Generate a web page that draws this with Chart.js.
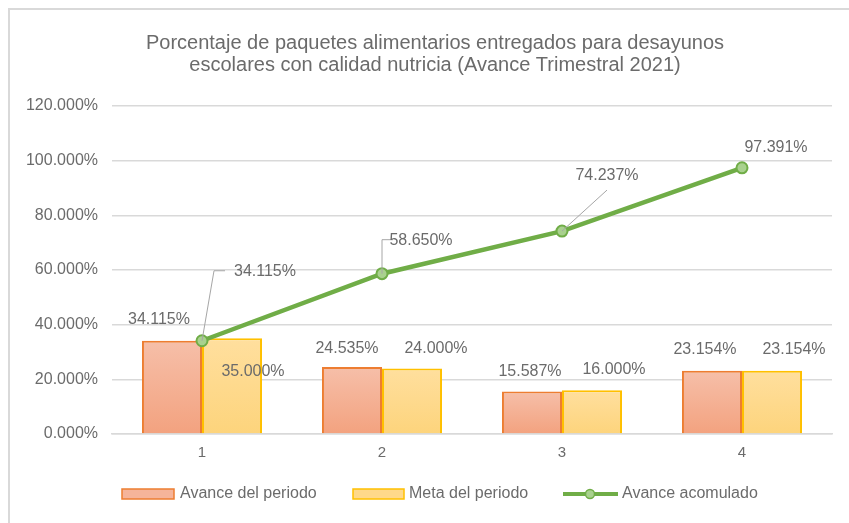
<!DOCTYPE html>
<html lang="en">
<head>
    <meta charset="UTF-8">
    <title>Avance Trimestral 2021</title>
    <style>
        body { margin: 0; background: #fff; }
        #chartContainer { width: 849px; height: 523px; }
    </style>
</head>
<body>

<div id="chartContainer">
    <canvas id="avanceChart"></canvas>
</div>

<script src="https://cdn.jsdelivr.net/npm/chart.js"></script>
<script>
    // Chart data
    const trimestres = ['1', '2', '3', '4'];
    const avancePeriodo = [34.115, 24.535, 15.587, 23.154];
    const metaPeriodo = [35.000, 24.000, 16.000, 23.154];
    const avanceAcumulado = [34.115, 58.650, 74.237, 97.391];
    const yTicks = [0, 20, 40, 60, 80, 100, 120];
    const tituloLineas = [
        'Porcentaje de paquetes alimentarios entregados para desayunos',
        'escolares con calidad nutricia (Avance Trimestral 2021)'
    ];
    const nombresSeries = ['Avance del periodo', 'Meta del periodo', 'Avance acomulado'];

    // label offsets (px) from each mark, copied from how Excel placed them
    const labelShift = [
        [[-13, -21], [-5, -18], [-2, -20], [-7, -21]],
        [[21, 33], [24, -20], [22, -21], [22, -21]],
        [[63, -69], [39, -33], [45, -55], [34, -20]]
    ];

    const fontFam = '"Liberation Sans", Arial, sans-serif';
    const grey = '#6b6b6b';

    function barGradient(ctx, top, bottom) {
        return function (context) {
            const chart = context.chart;
            if (!chart.chartArea || context.type !== 'data') return top;
            const y = chart.scales.y;
            const v = context.raw;
            const g = chart.ctx.createLinearGradient(0, y.getPixelForValue(v), 0, y.getPixelForValue(0));
            g.addColorStop(0, top);
            g.addColorStop(1, bottom);
            return g;
        };
    }

    const fmt = v => v.toFixed(3) + '%';

    const decor = {
        id: 'decor',
        beforeDraw(chart) {
            const c = chart.ctx;
            c.save();
            c.fillStyle = '#fff';
            c.fillRect(0, 0, chart.width, chart.height);
            // frame
            c.fillStyle = '#d9d9d9';
            c.fillRect(8, 8, chart.width - 8, 2);
            c.fillRect(8, 8, 2, chart.height - 8);
            // title
            c.fillStyle = grey;
            c.font = '20px ' + fontFam;
            c.textAlign = 'center';
            c.textBaseline = 'middle';
            c.fillText(tituloLineas[0], 435, 43);
            c.fillText(tituloLineas[1], 435, 65);
            c.restore();
        },
        afterDatasetsDraw(chart) {
            const c = chart.ctx;
            c.save();
            c.font = '16px ' + fontFam;
            c.fillStyle = grey;
            c.textAlign = 'center';
            c.textBaseline = 'middle';
            chart.data.datasets.forEach((ds, i) => {
                const meta = chart.getDatasetMeta(i);
                meta.data.forEach((el, j) => {
                    const px = el.x, py = el.y;
                    const lx = px + labelShift[i][j][0];
                    const ly = py + labelShift[i][j][1];
                    if (i === 2 && j < 3) {
                        // leader lines
                        c.strokeStyle = '#a6a6a6';
                        c.lineWidth = 1;
                        c.beginPath();
                        if (j === 0) {
                            c.moveTo(px, py); c.lineTo(px + 12, py - 70); c.lineTo(px + 23, py - 70);
                        } else if (j === 1) {
                            c.moveTo(px, py); c.lineTo(px, py - 34); c.lineTo(px + 11, py - 34);
                        } else {
                            c.moveTo(px, py); c.lineTo(px + 45, py - 41);
                        }
                        c.stroke();
                    }
                    c.fillText(fmt(ds.data[j]), lx, ly);
                });
            });
            c.restore();
        },
        afterDraw(chart) {
            // legend
            const c = chart.ctx;
            c.save();
            c.textBaseline = 'middle';
            const ly = 494;
            c.lineWidth = 1.5;
            c.fillStyle = '#f5b49a';
            c.fillRect(122, 489, 52, 10);
            c.strokeStyle = '#ed7d31';
            c.strokeRect(122, 489, 52, 10);
            c.fillStyle = '#ffd98a';
            c.fillRect(353, 489, 51, 10);
            c.strokeStyle = '#ffc000';
            c.strokeRect(353, 489, 51, 10);
            c.strokeStyle = '#70ad47'; c.lineWidth = 4;
            c.beginPath(); c.moveTo(563, ly); c.lineTo(618, ly); c.stroke();
            c.fillStyle = '#a9d18e'; c.lineWidth = 1.5;
            c.beginPath(); c.arc(590, ly, 4.5, 0, Math.PI * 2); c.fill(); c.stroke();
            c.fillStyle = grey;
            c.font = '16px ' + fontFam;
            c.fillText(nombresSeries[0], 180, ly);
            c.fillText(nombresSeries[1], 409, ly);
            c.fillText(nombresSeries[2], 622, ly);
            c.restore();
        }
    };

    const ctx = document.getElementById('avanceChart').getContext('2d');
    new Chart(ctx, {
        data: {
            labels: trimestres,
            datasets: [
                {
                    type: 'bar',
                    label: nombresSeries[0],
                    data: avancePeriodo,
                    backgroundColor: barGradient(ctx, '#f6bfa9', '#f3a27f'),
                    borderColor: '#ed7d31',
                    borderWidth: 2,
                    borderSkipped: 'bottom',
                    categoryPercentage: 0.667,
                    barPercentage: 1,
                    order: 2
                },
                {
                    type: 'bar',
                    label: nombresSeries[1],
                    data: metaPeriodo,
                    backgroundColor: barGradient(ctx, '#ffdf9e', '#fdd47c'),
                    borderColor: '#ffc000',
                    borderWidth: 2,
                    borderSkipped: 'bottom',
                    categoryPercentage: 0.667,
                    barPercentage: 1,
                    order: 2
                },
                {
                    type: 'line',
                    label: nombresSeries[2],
                    data: avanceAcumulado,
                    borderColor: '#70ad47',
                    borderWidth: 4.5,
                    pointRadius: 5.5,
                    pointBackgroundColor: '#a9d18e',
                    pointBorderColor: '#70ad47',
                    pointBorderWidth: 2,
                    tension: 0,
                    order: 1
                }
            ]
        },
        options: {
            responsive: true,
            maintainAspectRatio: false,
            animation: false,
            layout: { padding: { top: 106, right: 17, bottom: 49, left: 0 } },
            plugins: {
                legend: { display: false },
                title: { display: false },
                tooltip: { enabled: false }
            },
            scales: {
                x: {
                    offset: true,
                    grid: { display: false, drawTicks: false },
                    border: { color: '#d9d9d9', width: 1.5 },
                    ticks: { color: grey, font: { size: 15, family: fontFam }, padding: 10 },
                    afterFit(s) { s.height = 40; }
                },
                y: {
                    min: 0,
                    max: 120,
                    afterBuildTicks(s) { s.ticks = yTicks.map(v => ({ value: v })); },
                    grid: { color: '#d9d9d9', lineWidth: 1.5, drawTicks: false },
                    border: { display: false },
                    ticks: {
                        color: grey,
                        font: { size: 16, family: fontFam },
                        padding: 14,
                        callback: v => fmt(v)
                    },
                    afterFit(s) { s.width = 112; }
                }
            }
        },
        plugins: [decor]
    });
</script>

</body>
</html>
